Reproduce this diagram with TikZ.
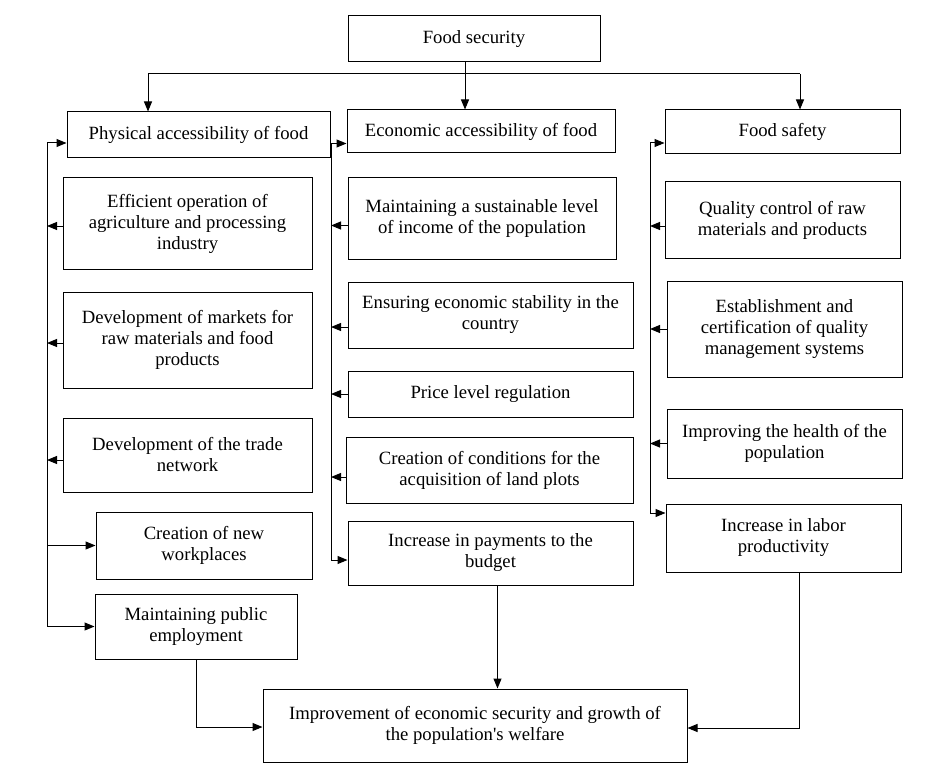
\documentclass[tikz,border=0pt]{standalone}
\usepackage{fontspec}
\setmainfont{Liberation Serif}[Ligatures=TeXOff]
\usetikzlibrary{arrows.meta}

\begin{document}
\begin{tikzpicture}[x=1pt,y=-1pt,
    box/.style={draw,line width=1pt,align=center,inner sep=0,
        font=\fontsize{18.7}{21}\selectfont},
    arrow/.style={line width=1pt,-{Triangle[length=10pt,width=8pt]}},
    line/.style={line width=1pt}]

\useasboundingbox (0,0) rectangle (928,770);

% top of the scheme

\node (foodSec) at (474,39) [box,minimum width=252pt,minimum height=46pt] {Food security};

\coordinate (split) at (465,74);
\coordinate (hubL) at (148,74);
\coordinate (hubR) at (800,74);

% physical accessibility

\node (physAcc) at (198.5,135) [box,minimum width=263pt,minimum height=46pt] {Physical accessibility of food};
\node (physEff) at (187.5,223.5) [box,minimum width=249pt,minimum height=91pt] {Efficient operation of\\agriculture and processing\\industry};
\node (physMark) at (187.5,340) [box,minimum width=249pt,minimum height=96pt] {Development of markets for\\raw materials and food\\products};
\node (physTrade) at (187.5,455) [box,minimum width=249pt,minimum height=74pt] {Development of the trade\\network};
\node (physWork) at (204,545.5) [box,minimum width=216pt,minimum height=67pt] {Creation of new\\workplaces};
\node (physEmpl) at (196,626.5) [box,minimum width=202pt,minimum height=65pt] {Maintaining public\\employment};

% economic accessibility

\node (econAcc) at (481,131.5) [box,minimum width=268pt,minimum height=43pt] {Economic accessibility of food};
\node (econInc) at (482,218.5) [box,minimum width=268pt,minimum height=81pt] {Maintaining a sustainable level\\of income of the population};
\node (econStab) at (490.5,315) [box,minimum width=285pt,minimum height=66pt] {Ensuring economic stability in the\\country};
\node (econPrice) at (490.5,394) [box,minimum width=285pt,minimum height=46pt] {Price level regulation};
\node (econLand) at (489.5,470) [box,minimum width=287pt,minimum height=66pt] {Creation of conditions for the\\acquisition of land plots};
\node (econBudg) at (490.5,553) [box,minimum width=285pt,minimum height=64pt] {Increase in payments to the\\budget};

% food safety

\node (safety) at (782.5,132) [box,minimum width=235pt,minimum height=44pt] {Food safety};
\node (safeQual) at (782.5,220) [box,minimum width=235pt,minimum height=76pt] {Quality control of raw\\materials and products};
\node (safeCert) at (784.5,329) [box,minimum width=235pt,minimum height=96pt] {Establishment and\\certification of quality\\management systems};
\node (safeHealth) at (784.5,443.5) [box,minimum width=235pt,minimum height=69pt] {Improving the health of the\\population};
\node (safeLabor) at (783.5,538) [box,minimum width=235pt,minimum height=68pt] {Increase in labor\\productivity};

% result

\node (welfare) at (475,725.5) [box,minimum width=424pt,minimum height=73pt] {Improvement of economic security and growth of\\the population's welfare};

% distribution from the top box

\draw [line] (split |- foodSec.south) -- (split);
\draw [line] (hubL) -- (hubR);
\draw [arrow] (hubL) -- (hubL |- physAcc.north);
\draw [arrow] (split) -- (split |- econAcc.north);
\draw [arrow] (hubR) -- (hubR |- safety.north);

% buses

\coordinate (busL) at (47,0);
\coordinate (busM) at (331,0);
\coordinate (busR) at (650,0);

\draw [line] ([yshift=-8pt]physAcc.west -| busL) -- (physEmpl.west -| busL);
\draw [line] ([yshift=-12pt]econAcc.west -| busM) -- ([yshift=-7pt]econBudg.west -| busM);
\draw [line] ([yshift=-11pt]safety.west -| busR) -- ([yshift=25pt]safeLabor.west -| busR);

% arrows out of the buses

\foreach \dst/\dy in {physAcc/-8,physWork/0,physEmpl/0}
    \draw [arrow] ([yshift=\dy pt]\dst.west -| busL) -- ([yshift=\dy pt]\dst.west);
\foreach \dst/\dy in {econAcc/-12,econBudg/-7}
    \draw [arrow] ([yshift=\dy pt]\dst.west -| busM) -- ([yshift=\dy pt]\dst.west);
\foreach \dst/\dy in {safety/-11,safeLabor/25}
    \draw [arrow] ([yshift=\dy pt]\dst.west -| busR) -- ([yshift=\dy pt]\dst.west);

% arrows into the buses

\foreach \src/\dy in {physEff/-2.5,physMark/-3,physTrade/-5}
    \draw [arrow] ([yshift=\dy pt]\src.west) -- ([yshift=\dy pt]\src.west -| busL);
\foreach \src/\dy in {econInc/-7,econStab/-12,econPrice/0,econLand/-7}
    \draw [arrow] ([yshift=\dy pt]\src.west) -- ([yshift=\dy pt]\src.west -| busM);
\foreach \src/\dy in {safeQual/-6,safeCert/0,safeHealth/0}
    \draw [arrow] ([yshift=\dy pt]\src.west) -- ([yshift=\dy pt]\src.west -| busR);

% arrows to the result

\draw [arrow] (physEmpl.south) |- ([yshift=-1.5pt]welfare.west);
\draw [arrow] ([xshift=7pt]econBudg.south) -- ([xshift=7pt]econBudg.south |- welfare.north);
\draw [arrow] ([xshift=16pt]safeLabor.south) |- ([yshift=-2.5pt]welfare.east);

\end{tikzpicture}
\end{document}
